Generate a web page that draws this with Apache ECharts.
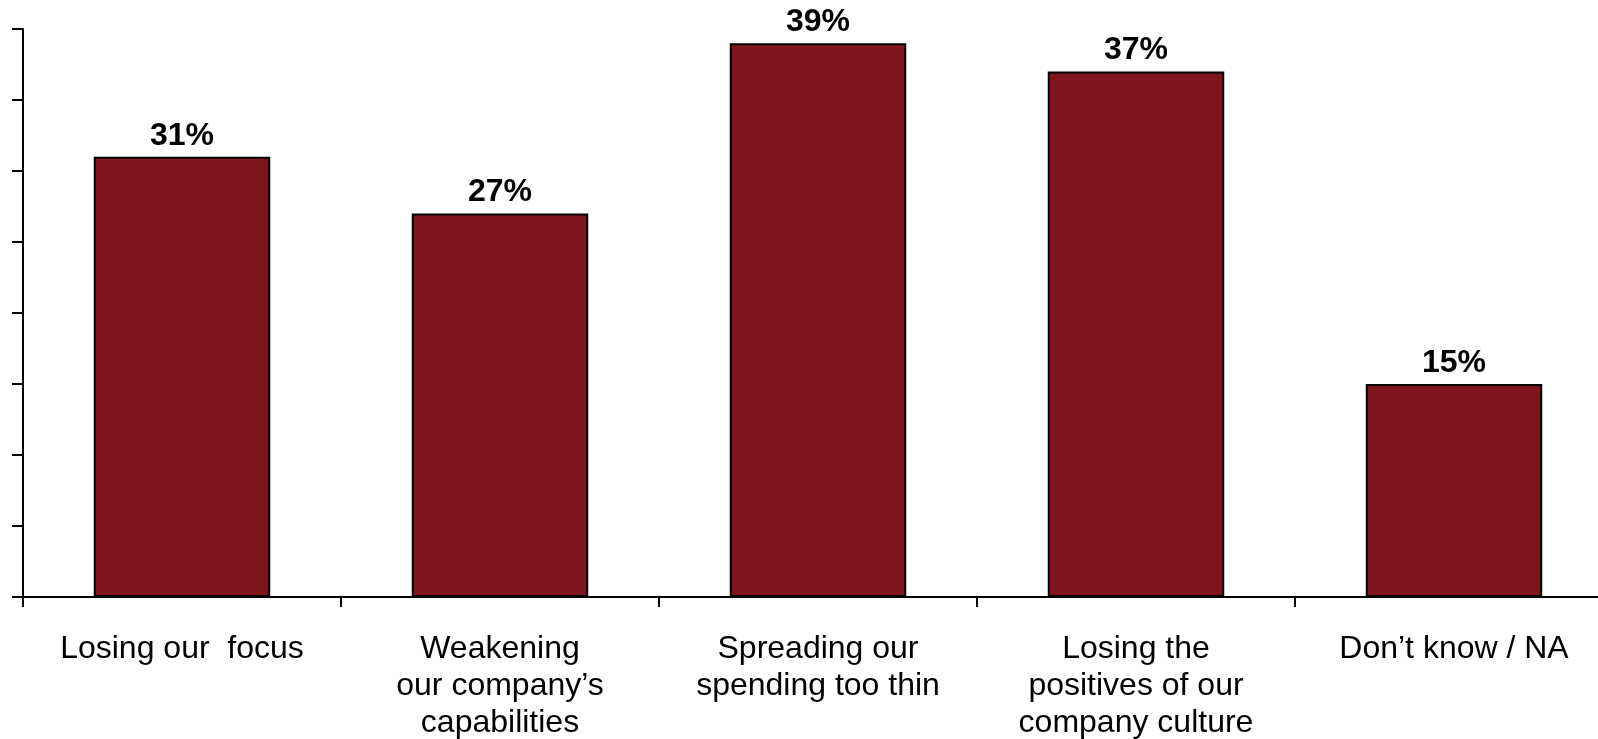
<!DOCTYPE html>
<html>
<head>
<meta charset="utf-8">
<script src="https://cdn.jsdelivr.net/npm/echarts@6/dist/echarts.min.js"></script>
<style>
  html, body { margin: 0; padding: 0; background: #fff; }
  #chart { width: 1598px; height: 739px; }
</style>
</head>
<body>
<div id="chart"></div>
<script>
// Survey responses: perceived risks, share of respondents (%)
const categories = [
  'Losing our  focus',
  'Weakening\nour company\u2019s\ncapabilities',
  'Spreading our\nspending too thin',
  'Losing the\npositives of our\ncompany culture',
  'Don\u2019t know / NA'
];
const shares = [31, 27, 39, 37, 15];
const yMin = 0;
const yMax = 40;
const yStep = 5;

const chart = echarts.init(document.getElementById('chart'), null, { renderer: 'canvas' });

chart.setOption({
  animation: false,
  backgroundColor: '#ffffff',
  textStyle: { fontFamily: '"Liberation Sans", Arial, sans-serif' },
  // plot area runs a little past the right edge of the page
  grid: { left: 23, top: 29, bottom: 142, width: 1590, containLabel: false, outerBoundsMode: 'none' },
  xAxis: {
    type: 'category',
    data: categories,
    boundaryGap: true,
    axisLine: { show: true, lineStyle: { color: '#000', width: 2 } },
    axisTick: { show: true, length: 10, lineStyle: { color: '#000', width: 2 } },
    axisLabel: {
      color: '#000',
      fontSize: 32,
      lineHeight: 37,
      margin: 34,
      interval: 0,
      fontFamily: '"Liberation Sans", Arial, sans-serif'
    }
  },
  yAxis: {
    type: 'value',
    min: yMin,
    max: yMax,
    interval: yStep,
    axisLine: { show: true, lineStyle: { color: '#000', width: 2 } },
    axisTick: { show: true, length: 11, lineStyle: { color: '#000', width: 2 } },
    axisLabel: { show: false },
    splitLine: { show: false }
  },
  series: [{
    type: 'bar',
    data: shares,
    barWidth: '55.5%',
    itemStyle: { color: '#80151F', borderColor: '#000', borderWidth: 2 },
    label: {
      show: true,
      position: 'top',
      distance: 5,
      formatter: '{c}%',
      color: '#000',
      fontSize: 32,
      fontWeight: 'bold',
      fontFamily: '"Liberation Sans", Arial, sans-serif'
    }
  }]
});
</script>
</body>
</html>
